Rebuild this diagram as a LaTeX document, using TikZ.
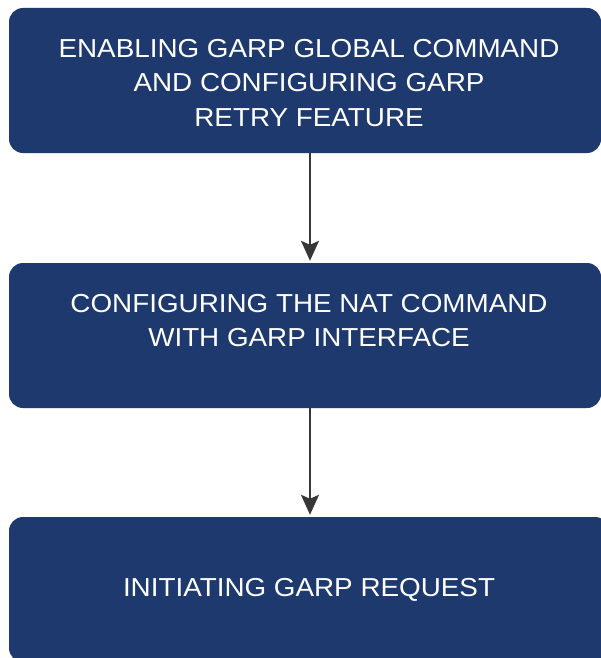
\documentclass[tikz,border=0pt]{standalone}
\usepackage{fontspec}
\newfontfamily\boxfont[FakeStretch=1.07]{Liberation Sans}
\usetikzlibrary{arrows.meta, positioning}

\definecolor{boxblue}{RGB}{30,57,110}
\definecolor{arrowgray}{RGB}{55,55,55}

\begin{document}
\begin{tikzpicture}[x=1pt, y=-1pt,
    stepbox/.style={fill=boxblue, rounded corners=14pt, minimum width=592pt, minimum height=145pt, inner sep=0pt},
    steptext/.style={text=white, align=center, font=\boxfont\fontsize{26}{34.5}\selectfont, inner sep=0pt},
    flow/.style={draw=arrowgray, line width=1.8pt, -{Stealth[length=20pt, width=18pt, inset=4pt]}}]
    \useasboundingbox (0,0) rectangle (601,658);

    % Boxes
    \node[stepbox] (box1) at (305, 80.5) {};
    \node[stepbox] (box2) at (305, 335.5) {};
    \node[stepbox, minimum width=600pt] (box3) at (309, 589.5) {};

    % Texts
    \node[steptext, anchor=north] (txt1) at (309, 39) {ENABLING GARP GLOBAL COMMAND\\AND CONFIGURING GARP\\RETRY FEATURE};
    \node[steptext, anchor=north] (txt2) at (309, 294) {CONFIGURING THE NAT COMMAND\\WITH GARP INTERFACE};
    \node[steptext] (txt3) at (309, 589.5) {INITIATING GARP REQUEST};

    % Arrows
    \draw[flow] ([xshift=5pt]box1.south) -- ([xshift=5pt, yshift=2pt]box2.north);
    \draw[flow] ([xshift=5pt]box2.south) -- ([xshift=1pt, yshift=2pt]box3.north);
\end{tikzpicture}
\end{document}
